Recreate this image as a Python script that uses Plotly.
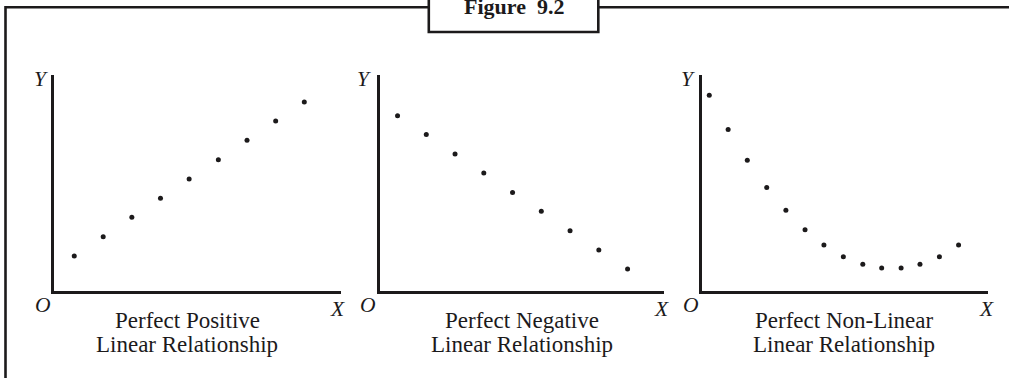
import plotly.graph_objects as go

# ---------------- data ----------------
pos_x = [0.70, 1.71, 2.71, 3.71, 4.71, 5.73, 6.73, 7.73, 8.73]
pos_y = [1.83, 2.83, 3.84, 4.82, 5.82, 6.83, 7.84, 8.84, 9.82]

neg_x = [0.63, 1.64, 2.65, 3.66, 4.67, 5.68, 6.69, 7.70, 8.71]
neg_y = [9.11, 8.13, 7.12, 6.14, 5.13, 4.15, 3.14, 2.14, 1.15]

non_x = [0.24, 0.90, 1.57, 2.25, 2.92, 3.59, 4.25, 4.93, 5.61, 6.27, 6.95, 7.61, 8.29, 8.96]
non_y = [10.17, 8.39, 6.80, 5.39, 4.20, 3.19, 2.40, 1.79, 1.40, 1.20, 1.20, 1.40, 1.79, 2.40]

panel_line1 = ["Perfect Positive", "Perfect Negative", "Perfect Non-Linear"]
panel_line2 = ["Linear Relationship", "Linear Relationship", "Linear Relationship"]
title_text = "Figure\u00a0 9.2"

# ---------------- layout helpers ----------------
W, H = 1009, 378
INK = "#1c1a1b"
SERIF = "Liberation Serif, Times New Roman, serif"


def px(x):
    return x / W


def py(y):
    return 1 - y / H


fig = go.Figure()

series = [(pos_x, pos_y), (neg_x, neg_y), (non_x, non_y)]
for i, (xs, ys) in enumerate(series):
    sfx = "" if i == 0 else str(i + 1)
    fig.add_trace(go.Scatter(
        x=xs, y=ys, mode="markers",
        marker=dict(size=5, color=INK),
        xaxis="x" + sfx, yaxis="y" + sfx,
        showlegend=False, hoverinfo="skip",
    ))

# axis geometry in pixels: (left of domain, right of domain)
x_doms = [(54.2, 340.7), (379.6, 664.3), (702.4, 988.3)]
y_dom = (74.5, 291.2)

axis_common = dict(showline=True, linecolor=INK, linewidth=3, showgrid=False,
                   zeroline=False, showticklabels=False, ticks="", fixedrange=True)

layout = dict(
    width=W, height=H,
    margin=dict(l=0, r=0, t=0, b=0),
    paper_bgcolor="white", plot_bgcolor="white",
    showlegend=False,
)
for i, (a, b) in enumerate(x_doms):
    sfx = "" if i == 0 else str(i + 1)
    anc = "" if i == 0 else str(i + 1)
    layout["xaxis" + sfx] = dict(domain=[px(a), px(b)], range=[0, 10],
                                 anchor="y" + anc, **axis_common)
    layout["yaxis" + sfx] = dict(domain=[py(y_dom[1]), py(y_dom[0])], range=[0, 11.25],
                                 anchor="x" + anc, **axis_common)
fig.update_layout(**layout)

annotations = []


def label(text, x, y, size, italic=False, bold=False):
    annotations.append(dict(
        text=("<b>%s</b>" % text) if bold else text,
        x=px(x), y=py(y), xref="paper", yref="paper",
        xanchor="center", yanchor="middle", showarrow=False,
        font=dict(family=SERIF, size=size, color=INK,
                  style="italic" if italic else "normal"),
    ))


y_lab_x = [41, 364, 688]
o_lab_x = [42.5, 368, 690.5]
x_lab_x = [337.5, 661.7, 986]
sub_cx = [187, 522, 844]
for i in range(3):
    label("Y", y_lab_x[i], 79, 21.5, italic=True)
    label("O", o_lab_x[i], 305, 21.5, italic=True)
    label("X", x_lab_x[i], 308.5, 21.5, italic=True)
    label(panel_line1[i], sub_cx[i], 320.5, 23)
    label(panel_line2[i], sub_cx[i], 344, 23)

label(title_text, 513.5, 7, 22, bold=True)
fig.update_layout(annotations=annotations)

# frame and title box
frame_lw = 2.6
shapes = [
    dict(type="line", xref="paper", yref="paper", x0=px(5.5), x1=px(428.5),
         y0=py(7.3), y1=py(7.3), line=dict(color=INK, width=frame_lw)),
    dict(type="line", xref="paper", yref="paper", x0=px(598.3), x1=px(W + 5),
         y0=py(7.3), y1=py(7.3), line=dict(color=INK, width=frame_lw)),
    dict(type="line", xref="paper", yref="paper", x0=px(5.5), x1=px(5.5),
         y0=py(6.0), y1=py(H + 5), line=dict(color=INK, width=frame_lw)),
    dict(type="rect", xref="paper", yref="paper", x0=px(428.8), x1=px(598.3),
         y0=py(32), y1=py(-10), line=dict(color=INK, width=2.6),
         fillcolor="rgba(0,0,0,0)"),
]
fig.update_layout(shapes=shapes)

fig.write_html(
    "out.html",
    config={"displayModeBar": False},
    post_script="document.body.style.margin='0px';document.body.style.overflow='hidden';",
)
